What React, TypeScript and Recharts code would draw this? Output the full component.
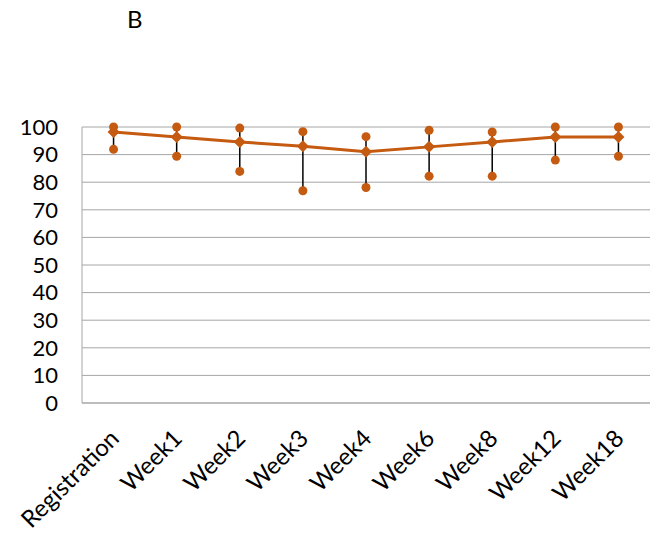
import React from 'react';
import { ComposedChart, Line, XAxis, YAxis, CartesianGrid, ErrorBar } from 'recharts';

const categories = ['Registration', 'Week1', 'Week2', 'Week3', 'Week4', 'Week6', 'Week8', 'Week12', 'Week18'];
const meanValues = [98.2, 96.4, 94.6, 93.0, 91.0, 92.8, 94.6, 96.4, 96.4];
const maxValues = [100, 100, 99.6, 98.3, 96.5, 98.8, 98.2, 100, 100];
const minValues = [91.9, 89.4, 83.9, 76.9, 78.1, 82.2, 82.2, 88.0, 89.4];
const yTicks = [0, 10, 20, 30, 40, 50, 60, 70, 80, 90, 100];

const ORANGE = '#c55a11';
const GRID = '#a6a6a6';
const FONT = 'Lato, "Open Sans", sans-serif';

const data = categories.map((name, i) => ({
  name,
  mean: meanValues[i],
  max: maxValues[i],
  min: minValues[i],
  range: [meanValues[i] - minValues[i], maxValues[i] - meanValues[i]],
}));

const Diamond = (props: any) => {
  const { cx, cy, index } = props;
  if (cx == null || cy == null) return <g key={`d-${index}`} />;
  const s = 6;
  return (
    <polygon
      key={`d-${index}`}
      points={`${cx},${cy - s} ${cx + s},${cy} ${cx},${cy + s} ${cx - s},${cy}`}
      fill={ORANGE}
    />
  );
};

const XTick = (props: any) => {
  const { x, y, payload } = props;
  return (
    <g transform={`translate(${x + 7},${y + 37})`}>
      <text textAnchor="end" transform="rotate(-45)" fontSize={24} fontFamily={FONT} fill="#000">
        {payload.value}
      </text>
    </g>
  );
};

export default function App() {
  return (
    <div style={{ position: 'absolute', left: 0, top: 0, width: 661, height: 536, background: '#fff' }}>
      <div style={{ position: 'absolute', left: 127, top: 7, fontSize: 24, lineHeight: '24px', fontFamily: FONT, color: '#000' }}>
        B
      </div>
      <ComposedChart width={661} height={536} data={data} margin={{ top: 127, right: 11, bottom: 103, left: 0 }}>
        <CartesianGrid vertical={false} stroke={GRID} strokeWidth={1} />
        <XAxis
          dataKey="name"
          scale="band"
          height={30}
          axisLine={{ stroke: GRID }}
          tickLine={false}
          tickSize={0}
          tickMargin={0}
          interval={0}
          tick={<XTick />}
        />
        <YAxis
          width={82}
          domain={[0, 100]}
          ticks={yTicks}
          interval={0}
          axisLine={{ stroke: GRID }}
          tickLine={false}
          tickSize={0}
          tickMargin={24}
          tick={{ fontSize: 22, fontFamily: FONT, fill: '#000' }}
        />
        <Line
          dataKey="mean"
          stroke={ORANGE}
          strokeWidth={3}
          dot={<Diamond />}
          activeDot={false}
          isAnimationActive={false}
        />
        <Line dataKey="mean" stroke="none" dot={false} activeDot={false} isAnimationActive={false}>
          <ErrorBar dataKey="range" width={0} stroke="#000" strokeWidth={1.5} direction="y" />
        </Line>
        <Line
          dataKey="max"
          stroke="none"
          dot={{ r: 4.5, fill: ORANGE, stroke: 'none' }}
          activeDot={false}
          isAnimationActive={false}
        />
        <Line
          dataKey="min"
          stroke="none"
          dot={{ r: 4.5, fill: ORANGE, stroke: 'none' }}
          activeDot={false}
          isAnimationActive={false}
        />
      </ComposedChart>
    </div>
  );
}
